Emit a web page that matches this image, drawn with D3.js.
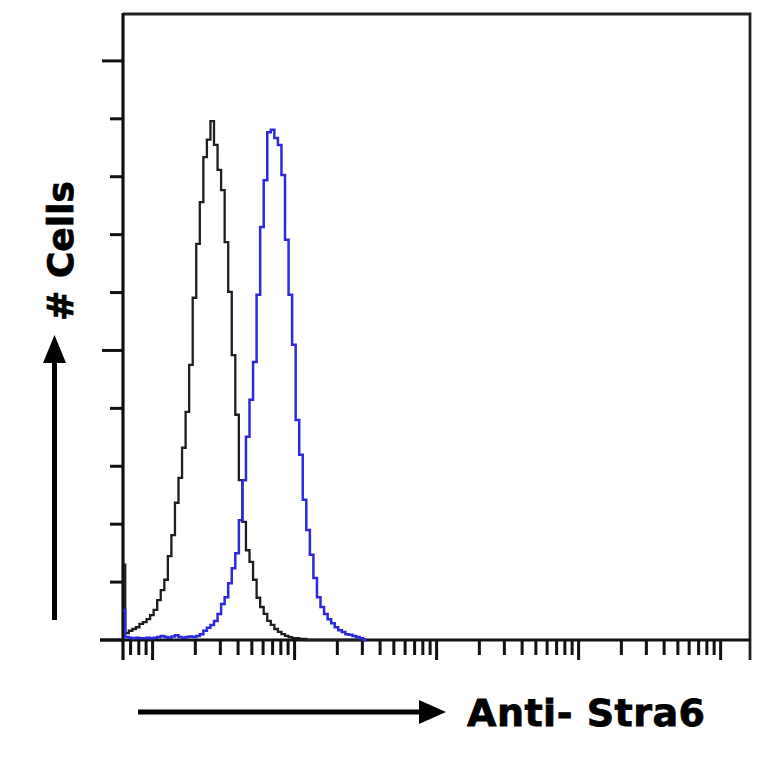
<!DOCTYPE html>
<html>
<head>
<meta charset="utf-8">
<script src="https://cdn.jsdelivr.net/npm/d3@7"></script>
<style>
  html, body { margin: 0; padding: 0; background: #fff; }
  svg { display: block; }
</style>
</head>
<body>
<div id="chart"></div>
<script>
// histogram channels, log10 of first edge and channel width (decades)
const binStart = 0.7825;
const binWidth = 0.025;

// isotype control (black)
const controlCounts = [
  13.0, 1.2, 1.6, 1.9, 2.2, 2.8, 3.1, 3.6, 4.3, 5.2,
  6.9, 8.6, 10.4, 14.5, 18.1, 23.7, 28.0, 33.2, 39.4, 47.5,
  59.1, 68.4, 75.6, 83.4, 86.4, 89.6, 85.5, 81.2, 77.7, 68.7,
  60.1, 49.2, 38.9, 27.6, 20.4, 15.5, 13.5, 10.4, 7.3, 5.7,
  4.5, 3.3, 2.6, 1.9, 1.4, 1.0, 0.7, 0.5, 0.3, 0.3,
  0.2, 0.2, 0, 0, 0, 0, 0, 0, 0, 0,
  0, 0, 0, 0, 0, 0, 0, 0, 0
];

// Anti-Stra6 stained (blue)
const stainedCounts = [
  5.2, 0.5, 0.4, 0.3, 0.4, 0.3, 0.3, 0.4, 0.3, 0.4,
  0.5, 0.7, 0.5, 0.4, 0.6, 0.8, 0.5, 0.4, 0.5, 0.6,
  0.5, 0.7, 1.0, 1.6, 2.1, 2.6, 3.3, 4.5, 6.2, 7.4,
  9.8, 12.4, 15.0, 20.7, 27.6, 35.1, 41.5, 48.0, 59.6, 71.3,
  79.4, 87.7, 88.1, 86.7, 85.5, 80.3, 69.1, 59.6, 51.0, 38.0,
  32.0, 24.2, 19.0, 14.7, 10.7, 7.4, 5.7, 4.5, 3.6, 2.9,
  2.2, 1.7, 1.4, 1.0, 0.9, 0.7, 0.5, 0.3, 0
];

const xDomain = [6.19, 161000];
const yDomain = [0, 108.1];
const yTicks = [0, 10, 20, 30, 40, 50, 60, 70, 80, 90, 100];
const yMajor = [0, 50, 100];
const xDecades = [10, 100, 1000, 10000, 100000];
const xMinorMult = [2, 3, 4, 5, 6, 7, 8, 9];

const yLabel = '# Cells';
const xLabel = 'Anti- Stra6';

const width = 764, height = 764;
const plot = { left: 123, right: 750, top: 14, bottom: 640 };

const svg = d3.select('#chart').append('svg')
    .attr('width', width)
    .attr('height', height);

const x = d3.scaleLog().domain(xDomain).range([plot.left, plot.right]);
const y = d3.scaleLinear().domain(yDomain).range([plot.bottom, plot.top]);

svg.append('clipPath')
    .attr('id', 'plotClip')
    .append('rect')
    .attr('x', plot.left)
    .attr('y', plot.top - 2)
    .attr('width', plot.right - plot.left)
    .attr('height', plot.bottom - plot.top + 4);

// frame top + right
svg.append('path')
    .attr('d', `M${plot.left},${plot.top}H${plot.right}V${plot.bottom + 20}`)
    .attr('fill', 'none')
    .attr('stroke', '#222')
    .attr('stroke-width', 2.8);

// y ticks
svg.append('g')
    .selectAll('line')
    .data(yTicks)
    .enter()
    .append('line')
    .attr('x1', d => d === 0 ? 100 : (yMajor.includes(d) ? 102 : 110))
    .attr('x2', plot.left)
    .attr('y1', d => y(d))
    .attr('y2', d => y(d))
    .attr('stroke', '#111')
    .attr('stroke-width', 3);

// x ticks
const minorTicks = [];
[1].concat(xDecades).forEach(dec => {
    xMinorMult.forEach(m => {
        const v = dec * m;
        if (v > xDomain[0] && v < xDomain[1] && !xDecades.includes(v)) minorTicks.push(v);
    });
});

svg.append('g')
    .selectAll('line')
    .data(minorTicks)
    .enter()
    .append('line')
    .attr('x1', d => x(d))
    .attr('x2', d => x(d))
    .attr('y1', plot.bottom)
    .attr('y2', plot.bottom + 15)
    .attr('stroke', '#111')
    .attr('stroke-width', 3);

svg.append('g')
    .selectAll('line')
    .data(xDecades)
    .enter()
    .append('line')
    .attr('x1', d => x(d))
    .attr('x2', d => x(d))
    .attr('y1', plot.bottom)
    .attr('y2', plot.bottom + 20)
    .attr('stroke', '#111')
    .attr('stroke-width', 3);

// axis lines
svg.append('line')
    .attr('x1', plot.left).attr('x2', plot.left)
    .attr('y1', plot.top - 1).attr('y2', plot.bottom + 20)
    .attr('stroke', '#111')
    .attr('stroke-width', 3.2);

svg.append('line')
    .attr('x1', 100).attr('x2', plot.right)
    .attr('y1', plot.bottom).attr('y2', plot.bottom)
    .attr('stroke', '#111')
    .attr('stroke-width', 3.2);

// histograms
function histPoints(counts) {
    const edge = i => Math.pow(10, binStart + i * binWidth);
    const pts = counts.map((c, i) => [edge(i), c]);
    pts.push([edge(counts.length), counts[counts.length - 1]]);
    return pts;
}

const line = d3.line()
    .x(d => x(d[0]))
    .y(d => y(d[1]))
    .curve(d3.curveStepAfter);

const curves = svg.append('g').attr('clip-path', 'url(#plotClip)');

curves.append('path')
    .attr('d', line(histPoints(controlCounts)))
    .attr('fill', 'none')
    .attr('stroke', '#1e1e1e')
    .attr('stroke-width', 2.3);

curves.append('path')
    .attr('d', line(histPoints(stainedCounts)))
    .attr('fill', 'none')
    .attr('stroke', '#2b2bdc')
    .attr('stroke-width', 2.5);

// arrows
const arrowColor = '#000';
svg.append('rect')
    .attr('x', 52).attr('y', 358)
    .attr('width', 5).attr('height', 262)
    .attr('fill', arrowColor);
svg.append('path')
    .attr('d', 'M54.5,335 L66,363 L43,363 Z')
    .attr('fill', arrowColor);

svg.append('rect')
    .attr('x', 138).attr('y', 709.5)
    .attr('width', 285).attr('height', 5)
    .attr('fill', arrowColor);
svg.append('path')
    .attr('d', 'M446,712 L419,700 L419,724 Z')
    .attr('fill', arrowColor);

// labels
svg.append('text')
    .attr('transform', 'translate(73,251) rotate(-90)')
    .attr('text-anchor', 'middle')
    .style('font-family', 'DejaVu Sans, sans-serif')
    .style('font-weight', 'bold')
    .style('font-size', '36px')
    .attr('fill', '#000')
    .attr('stroke', '#000')
    .attr('stroke-width', 0.8)
    .text(yLabel);

svg.append('text')
    .attr('x', 467)
    .attr('y', 726)
    .style('font-family', 'DejaVu Sans, sans-serif')
    .style('font-weight', 'bold')
    .style('font-size', '38px')
    .attr('fill', '#000')
    .attr('stroke', '#000')
    .attr('stroke-width', 0.8)
    .attr('textLength', 238)
    .attr('lengthAdjust', 'spacing')
    .text(xLabel);
</script>
</body>
</html>
